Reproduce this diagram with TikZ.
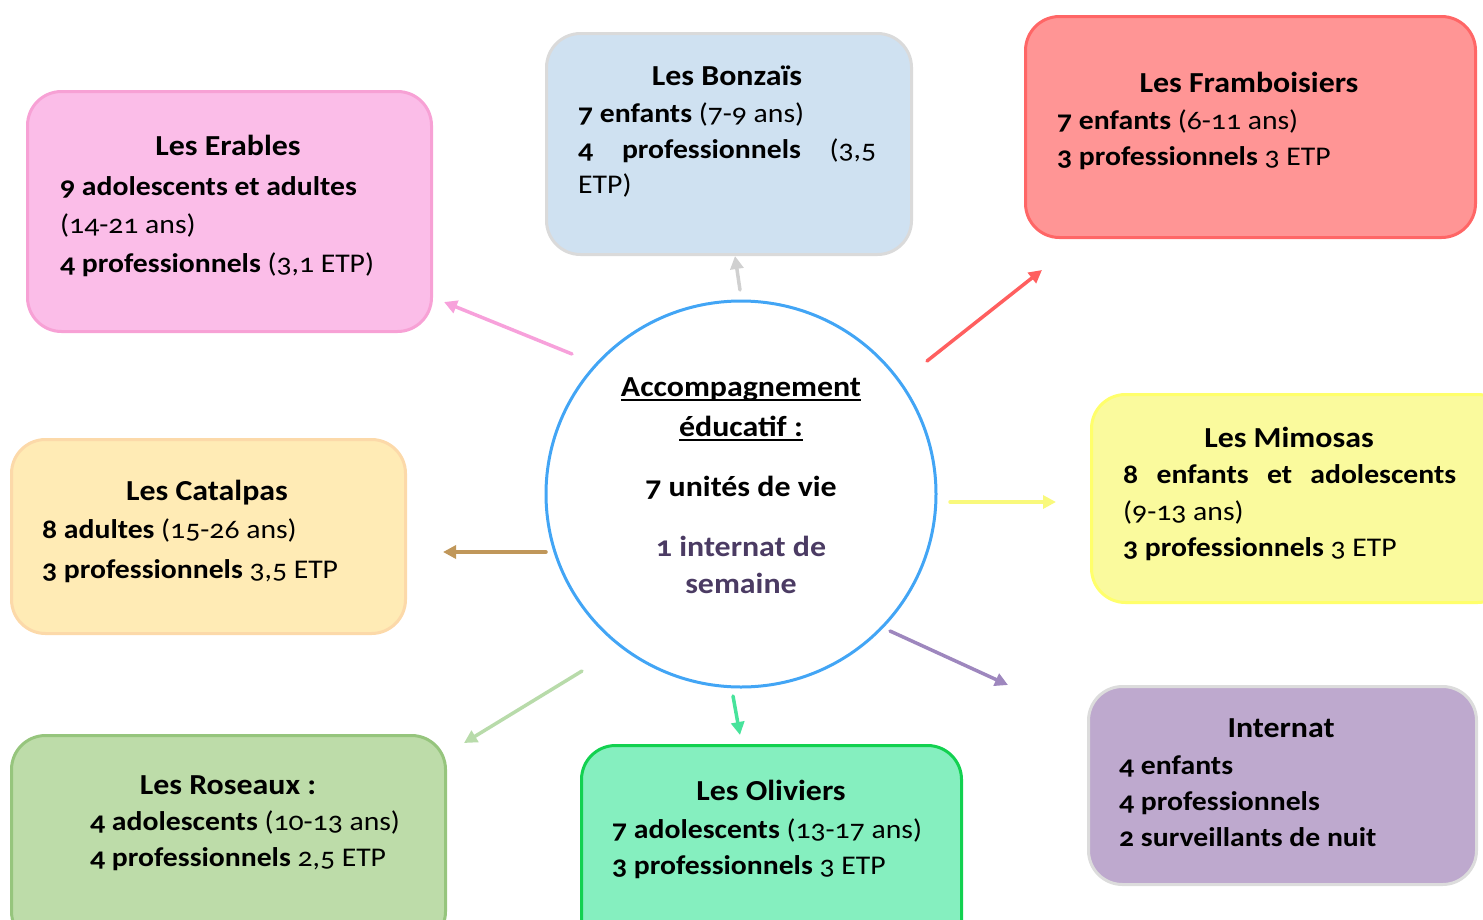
\documentclass[tikz,border=0pt]{standalone}
\usepackage{fontspec}
\setmainfont{Carlito}[Numbers=OldStyle, FakeStretch=1.1]
\usetikzlibrary{arrows.meta,shapes.geometric}
\definecolor{pinkF}{HTML}{FBBDE8}\definecolor{pinkB}{HTML}{F7A1D5}
\definecolor{bluF}{HTML}{CFE1F1}\definecolor{bluB}{HTML}{DADADA}
\definecolor{redF}{HTML}{FF9595}\definecolor{redB}{HTML}{FF6666}
\definecolor{catF}{HTML}{FFEBB5}\definecolor{catB}{HTML}{FCD9A9}
\definecolor{yelF}{HTML}{FAFA9D}\definecolor{yelB}{HTML}{FFFF6B}
\definecolor{rosF}{HTML}{BDDCA9}\definecolor{rosB}{HTML}{96C57D}
\definecolor{oliF}{HTML}{85EFBF}\definecolor{oliB}{HTML}{12D150}
\definecolor{intF}{HTML}{BEA9CE}\definecolor{intB}{HTML}{DCDCDC}
\definecolor{circB}{HTML}{42A5F5}
\definecolor{aGray}{HTML}{D0D0D0}\definecolor{aPink}{HTML}{F7A1DB}
\definecolor{aRed}{HTML}{FF5F5F}\definecolor{aYel}{HTML}{F9F97C}
\definecolor{aBrown}{HTML}{C0975A}\definecolor{aLGreen}{HTML}{B8DBAA}
\definecolor{aGreen}{HTML}{47E39B}\definecolor{aPurple}{HTML}{9E87BE}
\definecolor{purpTxt}{HTML}{4B3B63}
\newsavebox\ulbox
\newcommand\myul[1]{\sbox\ulbox{#1}\rlap{\rule[-4.5pt]{\wd\ulbox}{1.2pt}}\usebox\ulbox}
\tikzset{
  unitbox/.style={draw, line width=3pt, rounded corners=34pt, inner sep=0pt},
  txt/.style={inner sep=0pt, font=\fontsize{27}{37}\selectfont},
  ttl/.style={txt, anchor=base, font=\fontsize{29}{37}\selectfont\bfseries},
  ln/.style={txt, anchor=base west},
  conn/.style={line width=3.5pt, -{Triangle[length=13pt,width=13pt]}, line cap=round}
}
\begin{document}
\begin{tikzpicture}[x=1pt,y=-1pt]
\useasboundingbox (0,0) rectangle (1483,919);
\clip (0,0) rectangle (1483,919);
% boxes
\node[unitbox, fill=pinkF, draw=pinkB, minimum width=404pt, minimum height=240pt, anchor=north west] (erables) at (26,90) {};
\node[unitbox, fill=bluF, draw=bluB, minimum width=365pt, minimum height=221pt, anchor=north west] (bonzais) at (545,32) {};
\node[unitbox, fill=redF, draw=redB, minimum width=450pt, minimum height=221pt, anchor=north west] (framb) at (1024,15) {};
\node[unitbox, fill=catF, draw=catB, minimum width=394pt, minimum height=194pt, anchor=north west] (catalpas) at (10,438) {};
\node[unitbox, fill=yelF, draw=yelB, minimum width=420pt, minimum height=208pt, anchor=north west] (mimosas) at (1090,393) {};
\node[unitbox, fill=rosF, draw=rosB, minimum width=434pt, minimum height=210pt, anchor=north west] (roseaux) at (10,734) {};
\node[unitbox, fill=oliF, draw=oliB, minimum width=380pt, minimum height=210pt, anchor=north west] (oliviers) at (580,744) {};
\node[unitbox, fill=intF, draw=intB, minimum width=388pt, minimum height=198pt, anchor=north west] (internat) at (1087,685) {};
\node[draw=circB, line width=3pt, ellipse, minimum width=390pt, minimum height=386pt, inner sep=0pt] (centre) at (741,494) {};
% Erables
\node[ttl] (erT) at (228,155) {Les Erables};
\node[ln] (er1) at (60,195) {\textbf{9 adolescents et adultes}};
\node[ln] (er2) at (60,233) {(14-21 ans)};
\node[ln] (er3) at (60,272) {\textbf{4 professionnels} (3,1 ETP)};
% Bonzais
\node[ttl] (boT) at (727,85) {Les Bonzaïs};
\node[ln] (bo1) at (578,122) {\textbf{7 enfants} (7-9 ans)};
\node[ln] (bo2) at (578,158) {\makebox[298pt][s]{\textbf{4}\hfill\textbf{professionnels}\hfill(3,5}};
\node[ln] (bo3) at (578,193) {ETP)};
% Framboisiers
\node[ttl] (frT) at (1249,92) {Les Framboisiers};
\node[ln] (fr1) at (1057,129) {\textbf{7 enfants} (6-11 ans)};
\node[ln] (fr2) at (1057,165) {\textbf{3 professionnels} 3 ETP};
% Catalpas
\node[ttl] (caT) at (207,500) {Les Catalpas};
\node[ln] (ca1) at (42,538) {\textbf{8 adultes} (15-26 ans)};
\node[ln] (ca2) at (42,578) {\textbf{3 professionnels} 3,5 ETP};
% Mimosas
\node[ttl] (miT) at (1289,447) {Les Mimosas};
\node[ln] (mi1) at (1123,483) {\makebox[333pt][s]{\textbf{8}\hfill\textbf{enfants}\hfill\textbf{et}\hfill\textbf{adolescents}}};
\node[ln] (mi2) at (1123,520) {(9-13 ans)};
\node[ln] (mi3) at (1123,556) {\textbf{3 professionnels} 3 ETP};
% Roseaux
\node[ttl] (roT) at (228,794) {Les Roseaux :};
\node[ln] (ro1) at (90,830) {\textbf{4 adolescents} (10-13 ans)};
\node[ln] (ro2) at (90,866) {\textbf{4 professionnels} 2,5 ETP};
% Oliviers
\node[ttl] (olT) at (771,800) {Les Oliviers};
\node[ln] (ol1) at (612,838) {\textbf{7 adolescents} (13-17 ans)};
\node[ln] (ol2) at (612,874) {\textbf{3 professionnels} 3 ETP};
% Internat
\node[ttl] (inT) at (1281,737) {Internat};
\node[ln] (in1) at (1119,774) {\textbf{4 enfants}};
\node[ln] (in2) at (1119,810) {\textbf{4 professionnels}};
\node[ln] (in3) at (1119,846) {\textbf{2 surveillants de nuit}};
% centre text
\node[ttl] (c1) at (741,396) {\myul{Accompagnement}};
\node[ttl] (c2) at (741,436) {\myul{éducatif :}};
\node[ttl] (c3) at (741,496) {7 unités de vie};
\node[ttl, text=purpTxt] (c4) at (741,556) {1 internat de};
\node[ttl, text=purpTxt] (c5) at (741,593) {semaine};
% arrow end points
\coordinate (sBo) at (740,290); \coordinate (eBo) at (735,256);
\coordinate (sEr) at (572,354); \coordinate (eEr) at (444,302);
\coordinate (sFr) at (927,361); \coordinate (eFr) at (1042,270);
\coordinate (sMi) at (950,502); \coordinate (eMi) at (1056,502);
\coordinate (sCa) at (546,552); \coordinate (eCa) at (443,552);
\coordinate (sRo) at (582,671); \coordinate (eRo) at (464,743);
\coordinate (sOl) at (733,696); \coordinate (eOl) at (740,735);
\coordinate (sIn) at (890,631); \coordinate (eIn) at (1008,685);
\draw[conn, aGray] (sBo) -- (eBo);
\draw[conn, aPink] (sEr) -- (eEr);
\draw[conn, aRed] (sFr) -- (eFr);
\draw[conn, aYel] (sMi) -- (eMi);
\draw[conn, aBrown] (sCa) -- (eCa);
\draw[conn, aLGreen] (sRo) -- (eRo);
\draw[conn, aGreen] (sOl) -- (eOl);
\draw[conn, aPurple] (sIn) -- (eIn);
\end{tikzpicture}
\end{document}
